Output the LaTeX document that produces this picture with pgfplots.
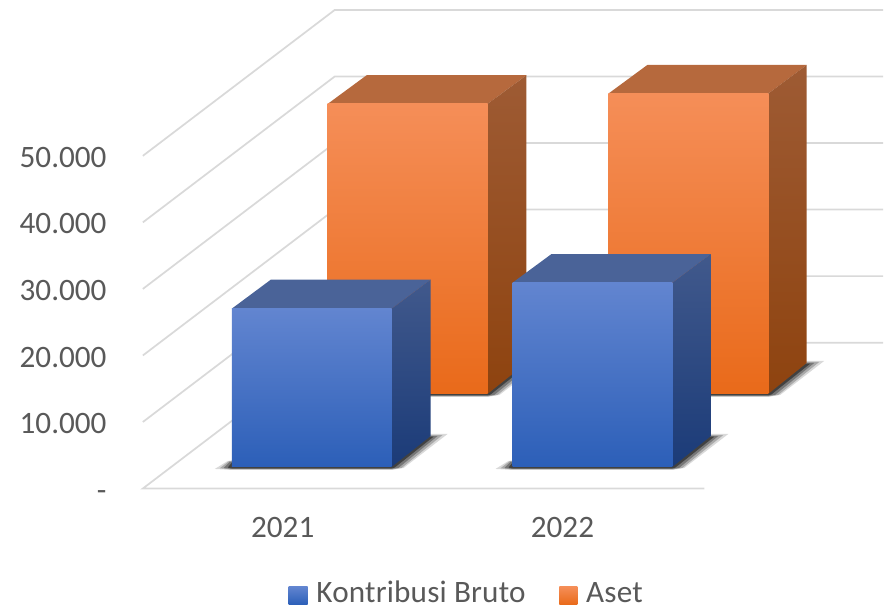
\documentclass[border=0pt]{standalone}
\usepackage{pgfplots}
\usepackage{pgfplotstable}
\pgfplotsset{compat=1.18}
\usepackage{fontspec}
\setmainfont{Carlito}
\definecolor{gridc}{HTML}{D9D9D9}
\definecolor{txt}{HTML}{595959}
\definecolor{bT}{HTML}{6285D0}\definecolor{bM}{HTML}{3F6FCA}\definecolor{bB}{HTML}{2C5FB8}
\definecolor{bTop}{HTML}{4A6398}\definecolor{bRT}{HTML}{41598C}\definecolor{bRB}{HTML}{1B3B78}
\definecolor{oT}{HTML}{F58E58}\definecolor{oM}{HTML}{FC7F26}\definecolor{oB}{HTML}{E96A1A}
\definecolor{oTop}{HTML}{B6693D}\definecolor{oRT}{HTML}{9E5B34}\definecolor{oRB}{HTML}{8E430F}
% shadow outlines relative to a bar's front-left base corner (px right, value units up)
\pgfplotstableread{
x y
-17 -300
-4 900
199 4955
216 4955
172 -150
160 -450
0 -450
}\shadowA
\pgfplotstableread{
x y
-12 -200
-3 850
199 4800
211 4800
170 -150
160 -380
0 -380
}\shadowB
\pgfplotstableread{
x y
-8 -150
-2 750
199 4650
206 4650
167 -120
160 -300
0 -300
}\shadowC
\pgfplotstableread{
x y
-4 -100
0 650
199 4550
202 4550
163 -100
160 -200
0 -200
}\shadowD
\newcommand{\barshadow}[2]{%
  \addplot[draw=none,fill=black,opacity=0.15] table[x expr=\thisrow{x}+#1,y expr=\thisrow{y}+#2]{\shadowA};
  \addplot[draw=none,fill=black,opacity=0.22] table[x expr=\thisrow{x}+#1,y expr=\thisrow{y}+#2]{\shadowB};
  \addplot[draw=none,fill=black,opacity=0.3] table[x expr=\thisrow{x}+#1,y expr=\thisrow{y}+#2]{\shadowC};
  \addplot[draw=none,fill=black,opacity=0.45] table[x expr=\thisrow{x}+#1,y expr=\thisrow{y}+#2]{\shadowD};
}
\begin{document}
\begin{tikzpicture}
\begin{axis}[
  scale only axis,width=663pt,height=455.25pt,
  xmin=0,xmax=884,ymin=-17718,ymax=73423,
  axis line style={draw=none},tick style={draw=none},
  scaled y ticks=false,
  ytick={0,10000,20000,30000,40000,50000},
  yticklabels={\raisebox{-8pt}[0pt][0pt]{-},10.000,20.000,30.000,40.000,50.000},
  xtick={283,563},xticklabels={2021,2022},
  ticklabel style={font=\fontsize{23.4pt}{28pt}\selectfont,text=txt},
  yticklabel style={anchor=east,xshift=83.5pt,yshift=-1.2pt},
  xticklabel style={anchor=center,yshift=59pt},
  clip=false,
]
% gridlines: side wall and back wall
\addplot[gridc,line width=1.3pt] coordinates {(143,10000)(335,31922)(884,31922)};
\addplot[gridc,line width=1.3pt] coordinates {(143,20000)(335,41922)(884,41922)};
\addplot[gridc,line width=1.3pt] coordinates {(143,30000)(335,51922)(884,51922)};
\addplot[gridc,line width=1.3pt] coordinates {(143,40000)(335,61922)(884,61922)};
\addplot[gridc,line width=1.3pt] coordinates {(143,50000)(335,71922)(884,71922)};
\addplot[gridc,line width=1.3pt] coordinates {(705,0)(143,0)(335,21922)(884,21922)};
% Aset 2021
\barshadow{328}{14219}
\addplot[draw=none,fill=oTop] coordinates {(328,57808)(367,62117)(527,62117)(488,57808)(328,57808)};
\addplot[draw=none,top color=oRT,bottom color=oRB] coordinates {(488,57808)(527,62117)(527,18874)(488,14219)(488,57808)};
\addplot[draw=none,top color=oT,middle color=oM,bottom color=oB] coordinates {(328,14219)(328,57808)(488,57808)(488,14219)(328,14219)};
% Aset 2022
\barshadow{609}{14219}
\addplot[draw=none,fill=oTop] coordinates {(609,59354)(648,63664)(807.5,63664)(769,59354)(609,59354)};
\addplot[draw=none,top color=oRT,bottom color=oRB] coordinates {(769,59354)(807.5,63664)(807.5,18874)(769,14219)(769,59354)};
\addplot[draw=none,top color=oT,middle color=oM,bottom color=oB] coordinates {(609,14219)(609,59354)(769,59354)(769,14219)(609,14219)};
% Kontribusi Bruto 2021
\barshadow{232}{3243}
\addplot[draw=none,fill=bTop] coordinates {(232,27027)(271,31381)(431,31381)(392,27027)(232,27027)};
\addplot[draw=none,top color=bRT,bottom color=bRB] coordinates {(392,27027)(431,31381)(431,7883)(392,3243)(392,27027)};
\addplot[draw=none,top color=bT,middle color=bM,bottom color=bB] coordinates {(232,3243)(232,27027)(392,27027)(392,3243)(232,3243)};
% Kontribusi Bruto 2022
\barshadow{513}{3243}
\addplot[draw=none,fill=bTop] coordinates {(513,30931)(552,35240)(711.5,35240)(673,30931)(513,30931)};
\addplot[draw=none,top color=bRT,bottom color=bRB] coordinates {(673,30931)(711.5,35240)(711.5,7883)(673,3243)(673,30931)};
\addplot[draw=none,top color=bT,middle color=bM,bottom color=bB] coordinates {(513,3243)(513,30931)(673,30931)(673,3243)(513,3243)};
% legend
\addplot[draw=none,top color=bT,middle color=bM,bottom color=bB] coordinates {(289,-17418)(289,-14715)(308,-14715)(308,-17418)(289,-17418)};
\addplot[draw=none,top color=oT,middle color=oM,bottom color=oB] coordinates {(560,-17418)(560,-14715)(578,-14715)(578,-17418)(560,-17418)};
\node[anchor=base west,inner sep=0pt,text=txt,font=\fontsize{23.4pt}{28pt}\selectfont\addfontfeatures{LetterSpace=0.6}] at (axis cs:316.5,-17118) {Kontribusi Bruto};
\node[anchor=base west,inner sep=0pt,text=txt,font=\fontsize{23.4pt}{28pt}\selectfont\addfontfeatures{LetterSpace=0.6}] at (axis cs:586.5,-17118) {Aset};
\end{axis}
\end{tikzpicture}
\end{document}
